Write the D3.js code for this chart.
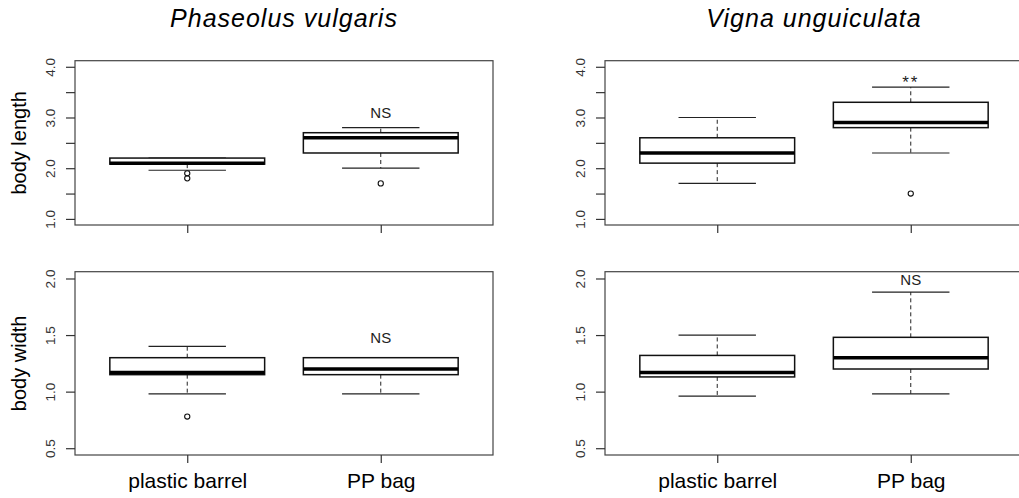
<!DOCTYPE html>
<html>
<head>
<meta charset="utf-8">
<script src="https://cdn.jsdelivr.net/npm/d3@7"></script>
<style>
  body { margin: 0; background: #fff; }
  svg text { font-family: "Liberation Sans", Arial, sans-serif; }
</style>
</head>
<body>
<svg id="chart" width="1019" height="498"></svg>
<script>
// Data
var groups = ["plastic barrel", "PP bag"];
var species = ["Phaseolus vulgaris", "Vigna unguiculata"];
var traits = ["body length", "body width"];

// box stats per group: [lower whisker, q1, median, q3, upper whisker]
var lengthPhaseolus = [[1.96, 2.08, 2.1, 2.2, 2.2], [2.0, 2.3, 2.6, 2.7, 2.8]];
var lengthVigna = [[1.7, 2.1, 2.3, 2.6, 3.0], [2.3, 2.8, 2.9, 3.3, 3.6]];
var widthPhaseolus = [[0.98, 1.15, 1.17, 1.3, 1.4], [0.98, 1.15, 1.2, 1.3, 1.3]];
var widthVigna = [[0.96, 1.13, 1.17, 1.32, 1.5], [0.98, 1.2, 1.3, 1.48, 1.88]];

// outliers per group
var outLengthPhaseolus = [[1.9, 1.8], [1.7]];
var outLengthVigna = [[], [1.5]];
var outWidthPhaseolus = [[0.78], []];
var outWidthVigna = [[], []];

// significance labels (on PP bag) and their heights
var sigLabels = ["NS", "**", "NS", "NS"];
var sigHeights = [3.1, 3.79, 1.48, 1.99];

var lengthTicks = [1.0, 1.5, 2.0, 2.5, 3.0, 3.5, 4.0];
var lengthTickLabels = ["1.0", "", "2.0", "", "3.0", "", "4.0"];
var widthTicks = [0.5, 1.0, 1.5, 2.0];
var widthTickLabels = ["0.5", "1.0", "1.5", "2.0"];

var svg = d3.select("#chart");

var panels = [
  { stats: lengthPhaseolus, out: outLengthPhaseolus, sp: 0, tr: 0, ticks: lengthTicks, labels: lengthTickLabels, dom: [0.88, 4.12] },
  { stats: lengthVigna, out: outLengthVigna, sp: 1, tr: 0, ticks: lengthTicks, labels: lengthTickLabels, dom: [0.88, 4.12] },
  { stats: widthPhaseolus, out: outWidthPhaseolus, sp: 0, tr: 1, ticks: widthTicks, labels: widthTickLabels, dom: [0.44, 2.06] },
  { stats: widthVigna, out: outWidthVigna, sp: 1, tr: 1, ticks: widthTicks, labels: widthTickLabels, dom: [0.44, 2.06] }
];

var lefts = [75, 605];
var tops = [[60.7, 225], [271.7, 455]];
var plotW = 418;

panels.forEach(function(p, k){
    var x0 = lefts[p.sp], x1 = x0 + plotW;
    var y0 = tops[p.tr][0], y1 = tops[p.tr][1];
    var x = d3.scaleLinear().domain([0.42, 2.58]).range([x0, x1]);
    var y = d3.scaleLinear().domain(p.dom).range([y1, y0]);
    var g = svg.append("g");

    // frame
    g.append("rect")
	.attr("x", x0).attr("y", y0)
	.attr("width", x1 - x0).attr("height", y1 - y0)
	.attr("fill", "none").attr("stroke", "#444").attr("stroke-width", 1.2);

    // y axis
    var yAxis = d3.axisLeft(y).tickValues(p.ticks).tickSize(9).tickFormat(function(d, i){ return p.labels[i]; });
    var ya = g.append("g").attr("transform", "translate(" + x0 + ",0)").call(yAxis);
    ya.select(".domain").remove();
    ya.selectAll("line").attr("stroke", "#333").attr("stroke-width", 1.2);
    ya.selectAll("text")
	.attr("x", null).attr("dy", null)
	.attr("text-anchor", "middle")
	.attr("transform", "translate(-20.5,0) rotate(-90)")
	.attr("fill", "#333")
	.style("font-size", "13.5px")
	.style("font-family", "'Liberation Sans', Arial, sans-serif");

    // x axis ticks
    var xAxis = d3.axisBottom(x).tickValues([1, 2]).tickSize(8).tickFormat(function(d){ return p.tr == 1 ? groups[d-1] : ""; });
    var xa = g.append("g").attr("transform", "translate(0," + y1 + ")").call(xAxis);
    xa.select(".domain").remove();
    xa.selectAll("line").attr("stroke", "#333").attr("stroke-width", 1.2);
    xa.selectAll("text")
	.attr("y", 33).attr("dy", null)
	.attr("fill", "#000")
	.style("font-size", "21px")
	.style("font-family", "'Liberation Sans', Arial, sans-serif");

    // boxes
    p.stats.forEach(function(s, i){
	var cx = x(i + 1);
	var hw = x(1.4) - x(1);
	var cw = x(1.2) - x(1);
	// dashed whiskers
	g.append("line").attr("x1", cx).attr("x2", cx).attr("y1", y(s[3])).attr("y2", y(s[4]))
	    .attr("stroke", "#222").attr("stroke-dasharray", "4,3");
	g.append("line").attr("x1", cx).attr("x2", cx).attr("y1", y(s[1])).attr("y2", y(s[0]))
	    .attr("stroke", "#222").attr("stroke-dasharray", "4,3");
	// caps
	[s[0], s[4]].forEach(function(v){
	    g.append("line").attr("x1", cx - cw).attr("x2", cx + cw).attr("y1", y(v)).attr("y2", y(v))
		.attr("stroke", "#222").attr("stroke-width", 1.2);
	});
	// box
	g.append("rect")
	    .attr("x", cx - hw).attr("y", y(s[3]))
	    .attr("width", 2 * hw).attr("height", y(s[1]) - y(s[3]))
	    .attr("fill", "#fff").attr("stroke", "#111").attr("stroke-width", 1.5);
	// median
	g.append("line").attr("x1", cx - hw).attr("x2", cx + hw).attr("y1", y(s[2])).attr("y2", y(s[2]))
	    .attr("stroke", "#000").attr("stroke-width", 3.5);
	// outliers
	p.out[i].forEach(function(v){
	    g.append("circle").attr("cx", cx).attr("cy", y(v)).attr("r", 2.6)
		.attr("fill", "none").attr("stroke", "#111").attr("stroke-width", 1.1);
	});
    });

    // significance label
    var stars = sigLabels[k] == "**";
    g.append("text")
	.attr("x", x(2)).attr("y", y(sigHeights[k]))
	.attr("dy", stars ? "0.6em" : "0.35em")
	.attr("text-anchor", "middle")
	.attr("fill", "#222")
	.style("font-size", stars ? "17px" : "15px")
	.style("letter-spacing", stars ? "2px" : null)
	.text(sigLabels[k]);

    // y title
    if (p.sp == 0) {
	g.append("text")
	    .attr("transform", "translate(26," + ((y0 + y1) / 2) + ") rotate(-90)")
	    .attr("text-anchor", "middle")
	    .style("font-size", "20px")
	    .text(traits[p.tr]);
    }

    // species title
    if (p.tr == 0) {
	g.append("text")
	    .attr("x", (x0 + x1) / 2).attr("y", 27)
	    .attr("text-anchor", "middle")
	    .style("font-size", "25px")
	    .style("letter-spacing", "1px")
	    .style("font-style", "italic")
	    .text(species[p.sp]);
    }
});
</script>
</body>
</html>
